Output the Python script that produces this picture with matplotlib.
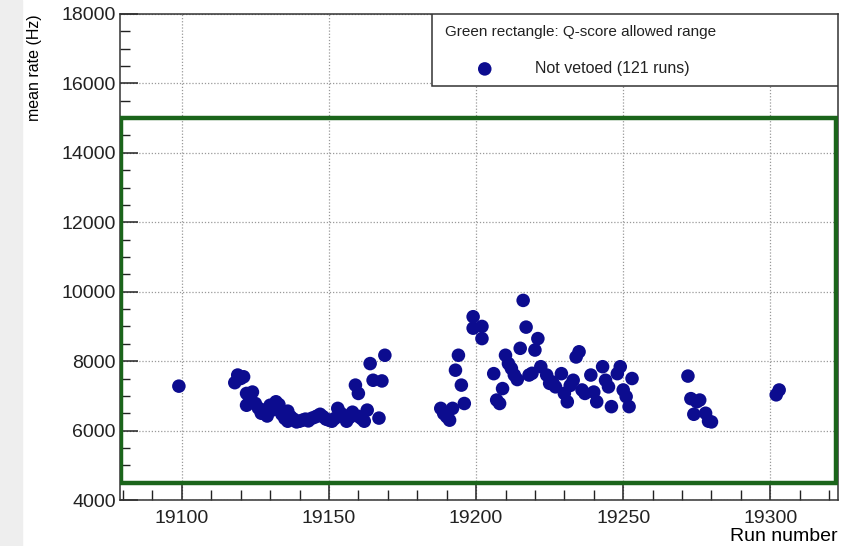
import numpy as np
import matplotlib.pyplot as plt
from matplotlib.patches import Rectangle
from matplotlib.ticker import MultipleLocator

plt.rcParams['font.family'] = ['Liberation Sans', 'DejaVu Sans']

# run numbers and mean rates (Hz)
runs = [19099, 19118, 19119, 19120, 19121, 19122, 19122, 19123, 19124, 19125,
        19126, 19127, 19128, 19129, 19130, 19131, 19132, 19133, 19134, 19135,
        19136, 19136, 19137, 19138, 19139, 19140, 19141, 19142, 19143, 19144,
        19145, 19146, 19147, 19148, 19149, 19150, 19151, 19152, 19153, 19154,
        19155, 19156, 19157, 19158, 19159, 19160, 19160, 19161, 19162, 19163,
        19164, 19165, 19167, 19168, 19169,
        19188, 19189, 19190, 19191, 19192, 19193, 19194, 19195, 19196,
        19199, 19199, 19202, 19202, 19206, 19207, 19208, 19209, 19210, 19211,
        19212, 19213, 19214, 19215, 19216, 19217, 19218, 19219, 19220, 19221,
        19222, 19224, 19225, 19226, 19227, 19229, 19230, 19231, 19232, 19233,
        19234, 19235, 19236, 19237, 19239, 19240, 19241, 19243, 19244, 19245,
        19246, 19248, 19249, 19250, 19251, 19252, 19253,
        19272, 19273, 19274, 19275, 19276, 19278, 19279, 19280,
        19302, 19303]
rates = [7280, 7380, 7600, 7500, 7550, 7070, 6730, 6950, 7110, 6780,
         6650, 6500, 6590, 6420, 6730, 6600, 6830, 6750, 6470, 6350,
         6560, 6270, 6400, 6330, 6250, 6270, 6300, 6330, 6280, 6350,
         6380, 6420, 6470, 6400, 6330, 6300, 6270, 6350, 6640, 6500,
         6440, 6270, 6380, 6530, 7310, 7070, 6410, 6350, 6270, 6590,
         7930, 7450, 6360, 7430, 8170,
         6640, 6490, 6400, 6300, 6640, 7740, 8170, 7310, 6780,
         9280, 8950, 9000, 8650, 7640, 6880, 6780, 7210, 8170, 7930,
         7790, 7600, 7470, 8370, 9750, 8980, 7600, 7650, 8320, 8650,
         7840, 7600, 7360, 7400, 7260, 7640, 7070, 6830, 7300, 7450,
         8120, 8270, 7170, 7070, 7600, 7110, 6830, 7840, 7450, 7260,
         6690, 7640, 7840, 7170, 6980, 6690, 7500,
         7570, 6920, 6470, 6830, 6880, 6500, 6270, 6250,
         7030, 7170]

x_min, x_max = 19079, 19323
y_min, y_max = 4000, 18000
q_low, q_high = 4500, 15000

fig = plt.figure(figsize=(8.61, 5.46), dpi=100)
fig.patches.append(Rectangle((0, 0), 0.025, 1, transform=fig.transFigure,
                             color='#eeeeee', zorder=-1))
ax = fig.add_axes([0.1394, 0.0842, 0.8339, 0.8902])

ax.add_patch(Rectangle((x_min + 0.3, q_low), x_max - x_min - 1.0, q_high - q_low,
                       fill=False, edgecolor='#1b651b', lw=3.2, zorder=3))

ax.scatter(runs, rates, s=95, color='#0c0c8f', edgecolors='none', zorder=4)

ax.set_xlim(x_min, x_max)
ax.set_ylim(y_min, y_max)
ax.xaxis.set_major_locator(MultipleLocator(50))
ax.xaxis.set_minor_locator(MultipleLocator(10))
ax.yaxis.set_major_locator(MultipleLocator(2000))
ax.yaxis.set_minor_locator(MultipleLocator(500))
ax.tick_params(which='both', direction='in', top=False, right=False,
               labelsize=14, colors='#222222')
ax.tick_params(which='major', length=13, width=1.1)
ax.tick_params(which='minor', length=7, width=1.0)
ax.tick_params(axis='x', pad=7)
ax.tick_params(axis='y', pad=3)
ax.grid(True, which='major', linestyle=(0, (1, 1.5)), color='#999999', lw=0.9)
ax.set_axisbelow(True)
for sp in ax.spines.values():
    sp.set_color('#333333')
    sp.set_linewidth(1.1)

ax.set_xlabel('Run number', fontsize=14, loc='right', labelpad=1)
ax.set_ylabel('mean rate (Hz)', fontsize=11.5, loc='top')
ax.yaxis.set_label_coords(-0.109, 1.0)

# legend box
lx0, ly0 = 0.4352, 0.852
leg = Rectangle((lx0, ly0), 1 - lx0, 1 - ly0, transform=ax.transAxes,
                facecolor='white', edgecolor='#333333', lw=1.1, zorder=5)
ax.add_patch(leg)
ax.text(0.452, 0.963, 'Green rectangle: Q-score allowed range', transform=ax.transAxes,
        fontsize=11, va='center', ha='left', zorder=6, color='#222222')
ax.scatter([0.508], [0.887], s=95, color='#0c0c8f', transform=ax.transAxes,
           zorder=6, edgecolors='none', clip_on=False)
ax.text(0.578, 0.887, 'Not vetoed (121 runs)', transform=ax.transAxes,
        fontsize=11.5, va='center', ha='left', zorder=6, color='#222222')

fig.savefig('out.png', dpi=100)
